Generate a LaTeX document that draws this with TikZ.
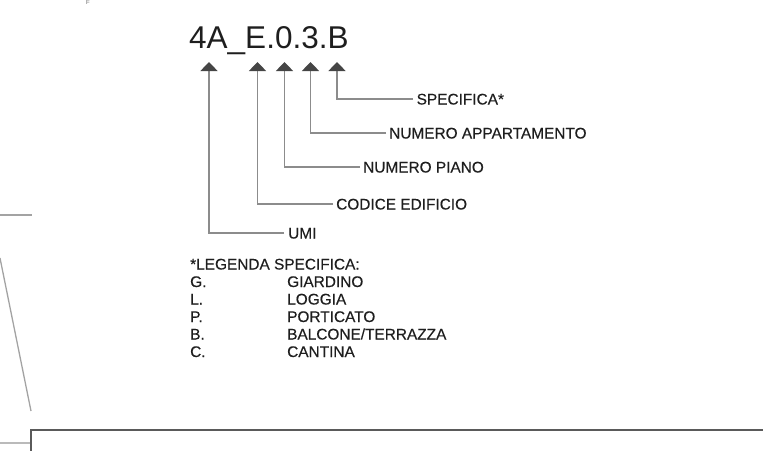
\documentclass[tikz,border=0pt]{standalone}
\usepackage{fontspec}
\setmainfont{Liberation Sans}
\newfontfamily\lblfont[FakeBold=0.35]{Liberation Sans}
\usetikzlibrary{arrows.meta}
\definecolor{txt}{HTML}{1E1E1E}
\definecolor{conncol}{HTML}{8C8C8C}
\definecolor{tipcol}{HTML}{454545}
\definecolor{framecol}{HTML}{5A5A5A}
\begin{document}
\begin{tikzpicture}[x=1pt,y=-1pt,
  conn/.style={draw=conncol,line width=1.4pt,-{Triangle[width=17pt,length=9pt,fill=tipcol,color=tipcol]}},
  lbl/.style={anchor=base west,inner sep=0pt,text=txt,font=\lblfont\fontsize{15.4}{17}\selectfont},
  leg/.style={anchor=base west,inner sep=0pt,text=txt,font=\lblfont\fontsize{15.4}{17}\selectfont},
  edge/.style={draw=conncol!80,line width=1.3pt},
  frame/.style={draw=framecol,line width=1.3pt}]
\useasboundingbox (0,0) rectangle (763,450);
% tiny mark at top
\node[anchor=north west,inner sep=0pt,text=black!60,font=\fontsize{6}{6}\selectfont] (f) at (86,0) {F};
% code
\node[anchor=base west,inner sep=0pt,text=txt,font=\fontsize{31.5}{33}\selectfont] (code) at (189,48.5) {4A\_E.0.3.B};
% arrow tips
\coordinate (t1) at (209,62);
\coordinate (t2) at (257.5,62);
\coordinate (t3) at (284.5,62);
\coordinate (t4) at (310.5,62);
\coordinate (t5) at (337,62);
% labels
\node[lbl] (umi) at (288,238.5) {UMI};
\node[lbl] (cod) at (336,209.5) {CODICE EDIFICIO};
\node[lbl] (pia) at (363,172.5) {NUMERO PIANO};
\node[lbl] (app) at (389,138.5) {NUMERO APPARTAMENTO};
\node[lbl] (spe) at (416.5,104.5) {SPECIFICA*};
% connector ends
\coordinate (e1) at (284,233);
\coordinate (e2) at (333,204);
\coordinate (e3) at (360,167);
\coordinate (e4) at (386,133);
\coordinate (e5) at (413,99);
\draw[conn] (e1) -| (t1);
\draw[conn] (e2) -| (t2);
\draw[conn] (e3) -| (t3);
\draw[conn] (e4) -| (t4);
\draw[conn] (e5) -| (t5);
% legend
\node[leg] (lh) at (190,269.5) {*LEGENDA SPECIFICA:};
\node[leg] (lg1) at (190,287) {G.};
\node[leg] (lg2) at (287,287) {GIARDINO};
\node[leg] (ll1) at (190,304.5) {L.};
\node[leg] (ll2) at (287,304.5) {LOGGIA};
\node[leg] (lp1) at (190,322) {P.};
\node[leg] (lp2) at (287,322) {PORTICATO};
\node[leg] (lb1) at (190,339.5) {B.};
\node[leg] (lb2) at (287,339.5) {BALCONE/TERRAZZA};
\node[leg] (lc1) at (190,357) {C.};
\node[leg] (lc2) at (287,357) {CANTINA};
% left edge fragments
\draw[edge] (0,215) -- (32,215);
\draw[edge] (0,258) -- (31,411);
\draw[edge,draw=conncol!60] (0,443) -- (31,443);
\draw[frame] (31,451) -- (31,430) -- (764,430);
\end{tikzpicture}
\end{document}
